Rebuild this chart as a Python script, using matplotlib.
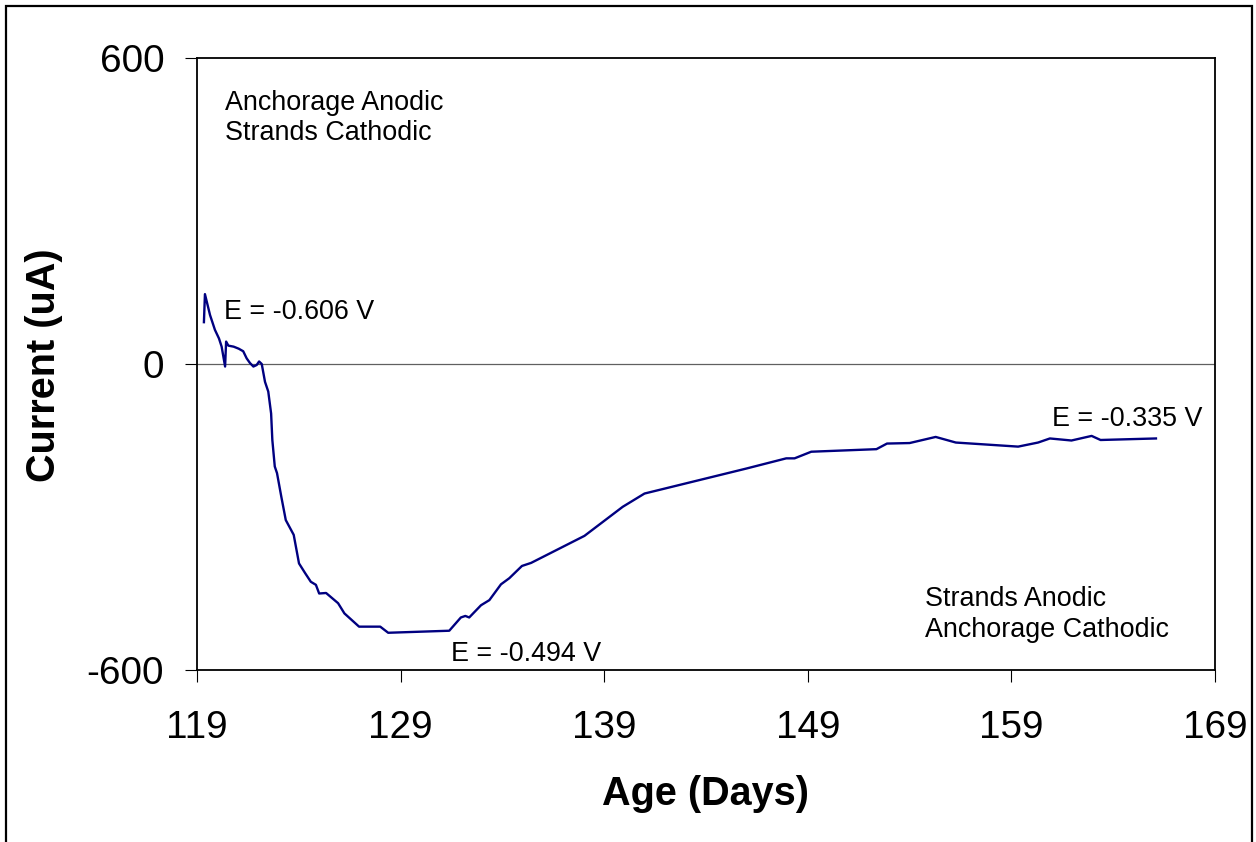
import matplotlib
matplotlib.use("Agg")
import matplotlib.pyplot as plt
from matplotlib.patches import Rectangle

plt.rcParams['font.family'] = ['Liberation Sans', 'DejaVu Sans']

age_days = [119.34, 119.39, 119.64, 119.88, 120.08, 120.21, 120.38, 120.43, 120.54, 120.80,
            121.05, 121.27, 121.44, 121.60, 121.77, 121.93, 122.05, 122.18, 122.34, 122.50,
            122.64, 122.70, 122.82, 122.93, 123.14, 123.36, 123.75, 124.01, 124.31, 124.59,
            124.84, 125.00, 125.34, 125.93, 126.24, 126.96, 128.00, 128.39, 131.39, 131.96,
            132.18, 132.37, 132.95, 133.36, 133.93, 134.34, 134.96, 135.41, 138.03, 139.91,
            140.98, 145.98, 146.47, 147.94, 148.35, 149.17, 152.37, 152.89, 154.00, 155.28,
            156.27, 159.33, 160.31, 160.89, 161.95, 162.94, 163.38, 166.10]
current_ua = [82, 137, 96, 67, 50, 34, -5, 44, 36, 34,
              30, 25, 11, 2, -5, -2, 5, 0, -35, -54,
              -97, -149, -201, -214, -260, -306, -335, -391, -410, -427,
              -433, -450, -449, -469, -489, -515, -515, -527, -523, -497,
              -494, -497, -473, -463, -432, -420, -396, -390, -337, -280,
              -254, -205, -200, -185, -185, -172, -167, -156, -155, -143,
              -154, -162, -154, -146, -150, -141, -149, -146]

x_ticks = [119, 129, 139, 149, 159, 169]
y_ticks = [-600, 0, 600]

W, H = 1256, 842
fig = plt.figure(figsize=(W / 100, H / 100), dpi=100)
fig.patch.set_facecolor('white')
ax = fig.add_axes([197 / W, 1 - 670 / H, (1215 - 197) / W, (670 - 58) / H])

ax.plot(age_days, current_ua, color='#000080', lw=1.7, zorder=3)
ax.axhline(0, color='#606060', lw=0.9, zorder=2)

ax.set_xlim(119, 169)
ax.set_ylim(-600, 600)
ax.set_xticks(x_ticks)
ax.set_yticks(y_ticks)
ax.set_xticklabels([str(v) for v in x_ticks])
ax.set_yticklabels([str(v) for v in y_ticks])
ax.tick_params(axis='both', direction='out', length=8.6, width=0.8, labelsize=27.8, color='black')
ax.tick_params(axis='x', pad=20)
ax.tick_params(axis='y', pad=15)
for s in ax.spines.values():
    s.set_linewidth(1.3)
    s.set_color('black')

ax.set_xlabel('Age (Days)', fontsize=28.5, fontweight='bold')
ax.set_ylabel('Current (uA)', fontsize=28.5, fontweight='bold')
ax.xaxis.label.set_va('center')
ax.yaxis.label.set_va('center')
ax.xaxis.set_label_coords((706 - 197) / 1018, -(794 - 670) / 612)
ax.yaxis.set_label_coords(-(197 - 44) / 1018, (670 - 365) / 612)


def axpt(px, py):
    return ((px - 197) / 1018, (670 - py) / 612)


fs = 19.4
ax.text(*axpt(225, 110), 'Anchorage Anodic', fontsize=fs, transform=ax.transAxes, va='baseline', ha='left')
ax.text(*axpt(225, 140), 'Strands Cathodic', fontsize=fs, transform=ax.transAxes, va='baseline', ha='left')
ax.text(*axpt(925, 606), 'Strands Anodic', fontsize=fs, transform=ax.transAxes, va='baseline', ha='left')
ax.text(*axpt(925, 637), 'Anchorage Cathodic', fontsize=fs, transform=ax.transAxes, va='baseline', ha='left')
ax.text(*axpt(224, 319), 'E = -0.606 V', fontsize=fs, transform=ax.transAxes, va='baseline', ha='left')
ax.text(*axpt(451, 661), 'E = -0.494 V', fontsize=fs, transform=ax.transAxes, va='baseline', ha='left')
ax.text(*axpt(1052, 426), 'E = -0.335 V', fontsize=fs, transform=ax.transAxes, va='baseline', ha='left')

fig.add_artist(Rectangle((6 / W, -0.02), (1252 - 6) / W, 1.02 - 6 / H,
                         transform=fig.transFigure, fill=False, edgecolor='black', lw=1.6))

fig.savefig('out.png', dpi=100, facecolor='white')
